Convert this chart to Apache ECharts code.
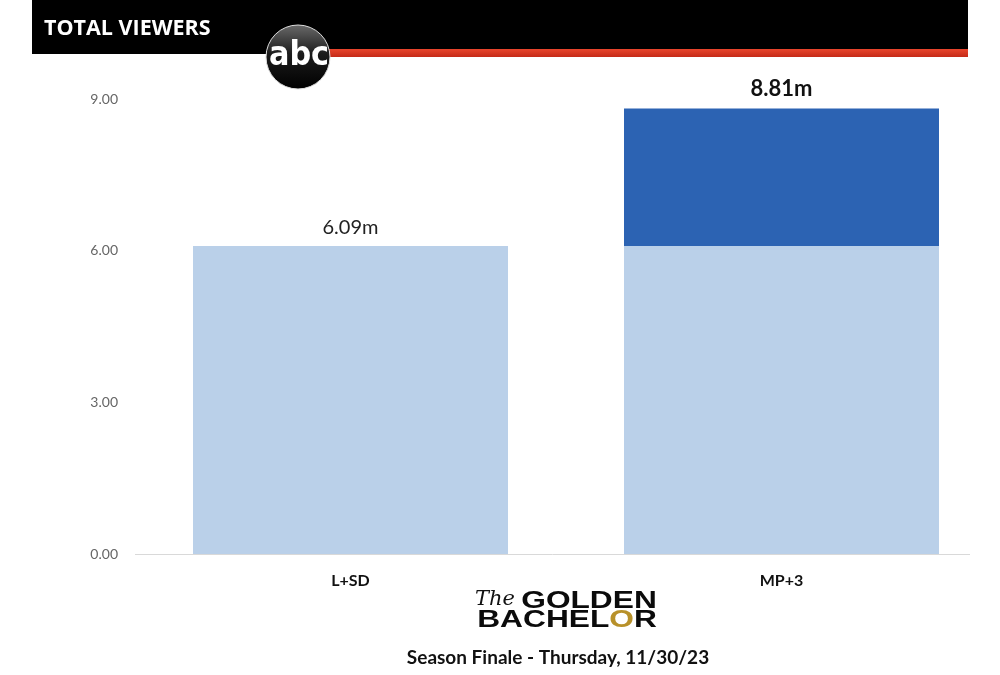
<!DOCTYPE html>
<html>
<head>
<meta charset="utf-8">
<script src="https://cdn.jsdelivr.net/npm/echarts@6/dist/echarts.min.js"></script>
<style>
html,body{margin:0;padding:0;background:#fff;}
#main{width:1000px;height:675px;}
</style>
</head>
<body>
<div id="main"></div>
<script>
// ---- data ----
var categories = ['L+SD', 'MP+3'];
var liveSameDay = [6.09, 6.09];
var delayedGain = [null, 2.72];
var totals = [6.09, 8.81];
var yTicks = [0, 3, 6, 9];

var chart = echarts.init(document.getElementById('main'));

var option = {
  backgroundColor: '#ffffff',
  animation: false,
  grid: { left: 135, right: 3, top: 99, bottom: 121 },
  xAxis: {
    type: 'category',
    data: categories,
    axisLine: { show: false },
    axisTick: { show: false },
    axisLabel: {
      margin: 19,
      fontFamily: 'Lato',
      fontWeight: 'bold',
      fontSize: 16,
      color: '#111'
    }
  },
  yAxis: {
    type: 'value',
    min: yTicks[0],
    max: yTicks[yTicks.length - 1],
    interval: yTicks[1] - yTicks[0],
    splitLine: { show: false },
    axisLine: { show: false },
    axisTick: { show: false },
    axisLabel: {
      margin: 17,
      fontFamily: 'Lato',
      fontSize: 14,
      color: '#666',
      formatter: function (v) { return v.toFixed(2); }
    }
  },
  series: [
    {
      name: 'L+SD',
      type: 'bar',
      stack: 'total',
      barWidth: 315,
      itemStyle: { color: '#bad0e9' },
      data: liveSameDay.map(function (v, i) {
        var d = { value: v };
        if (i === 0) {
          d.label = {
            show: true, position: 'top', distance: 9,
            formatter: totals[i].toFixed(2) + 'm',
            fontFamily: 'Lato', fontSize: 20, color: '#222'
          };
        }
        return d;
      })
    },
    {
      name: 'MP+3',
      type: 'bar',
      stack: 'total',
      barWidth: 315,
      itemStyle: { color: '#2c63b3' },
      data: delayedGain.map(function (v, i) {
        var d = { value: v };
        if (v !== null) {
          d.label = {
            show: true, position: 'top', distance: 9,
            formatter: totals[i].toFixed(2) + 'm',
            fontFamily: 'Lato', fontWeight: 'bold', fontSize: 22, color: '#111'
          };
        }
        return d;
      })
    }
  ],
  graphic: [
    // header band
    { type: 'rect', shape: { x: 32, y: 0, width: 936, height: 54 }, style: { fill: '#000' }, z: 10 },
    { type: 'rect', shape: { x: 320, y: 49, width: 648, height: 8 },
      style: { fill: new echarts.graphic.LinearGradient(0, 0, 0, 1, [
        { offset: 0, color: '#e8452c' }, { offset: 1, color: '#c42a18' }]) }, z: 11 },
    { type: 'text', x: 44, y: 29, style: { text: 'TOTAL VIEWERS', fill: '#fff', font: 'bold 21.5px "Open Sans"', textVerticalAlign: 'middle' }, z: 12 },
    // abc logo
    { type: 'circle', shape: { cx: 298, cy: 57, r: 32 },
      style: { fill: new echarts.graphic.LinearGradient(0, 0, 0, 1, [
        { offset: 0, color: '#6a6a6a' }, { offset: 0.45, color: '#1c1c1c' }, { offset: 1, color: '#000' }]),
        stroke: '#ddd', lineWidth: 1 }, z: 13 },
    { type: 'text', x: 299, y: 56, scaleX: 0.92,
      style: { text: 'abc', fill: '#fff', font: 'bold 33px "DejaVu Sans"', textAlign: 'center', textVerticalAlign: 'middle' }, z: 14 },
    // baseline
    { type: 'line', shape: { x1: 135, y1: 554.5, x2: 970, y2: 554.5 }, style: { stroke: '#d9d9d9', lineWidth: 1 }, z: 5 },
    // bottom show logo
    { type: 'text', x: 495, y: 600, style: { text: 'The', fill: '#111', font: 'italic 21px "DejaVu Serif"', textAlign: 'center', textVerticalAlign: 'middle' }, z: 12 },
    { type: 'text', x: 589, y: 601, scaleX: 1.32,
      style: { text: 'GOLDEN', fill: '#0b0b0b', font: 'bold 24px "Liberation Sans"', textAlign: 'center', textVerticalAlign: 'middle', textStroke: '#0b0b0b', lineWidth: 1 }, z: 12 },
    { type: 'text', x: 567, y: 620, scaleX: 1.32,
      style: {
        text: '{a|BACHEL}{o|O}{a|R}',
        textAlign: 'center', textVerticalAlign: 'middle',
        rich: {
          a: { fill: '#0b0b0b', font: 'bold 24px "Liberation Sans"', textStroke: '#0b0b0b', lineWidth: 1 },
          o: { fill: '#b8912a', font: 'bold 24px "Liberation Sans"', textStroke: '#e6c65a', lineWidth: 1 }
        }
      }, z: 12 },
    { type: 'text', x: 558, y: 658, style: { text: 'Season Finale - Thursday, 11/30/23', fill: '#111', font: 'bold 19px "Lato"', textAlign: 'center', textVerticalAlign: 'middle' }, z: 12 }
  ]
};

chart.setOption(option);
</script>
</body>
</html>
